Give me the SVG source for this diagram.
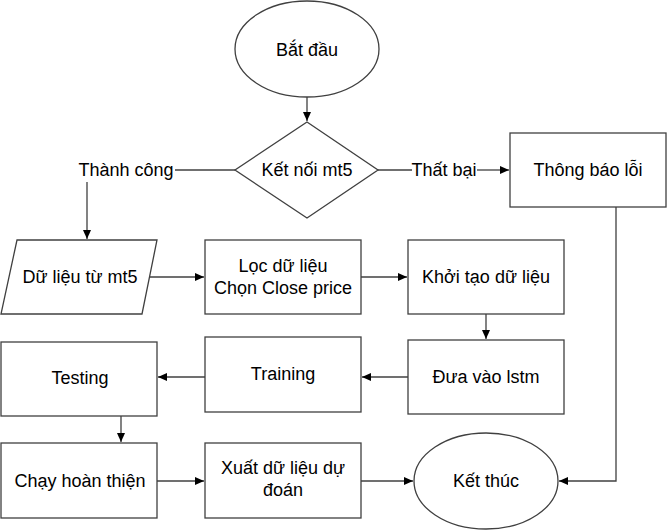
<svg xmlns="http://www.w3.org/2000/svg" width="668" height="531" viewBox="0 0 668 531">
<defs>
<style>
.s{fill:#fff;stroke:#404040;stroke-width:1.3}
.t{font-family:"Liberation Sans",Arial,sans-serif;font-size:18px;fill:#000;text-anchor:middle}
.c{fill:none;stroke:#404040;stroke-width:1.3}
</style>
<marker id="a" markerWidth="10" markerHeight="8" refX="9" refY="4" orient="auto" markerUnits="userSpaceOnUse">
<path d="M0,0 L9,4 L0,8 Z" fill="#000"/>
</marker>
</defs>
<rect width="668" height="531" fill="#fff"/>
<g id="connectors">
<path class="c" d="M307,97 V121" marker-end="url(#a)"/>
<path class="c" d="M235,170 H175"/>
<path class="c" d="M87,182 V239" marker-end="url(#a)"/>
<path class="c" d="M378,170 H412"/>
<path class="c" d="M477,170 H509" marker-end="url(#a)"/>
<path class="c" d="M616,207 V481 H559" marker-end="url(#a)"/>
<path class="c" d="M150,277 H204" marker-end="url(#a)"/>
<path class="c" d="M361,277 H407" marker-end="url(#a)"/>
<path class="c" d="M486,314 V339" marker-end="url(#a)"/>
<path class="c" d="M408,377 H362" marker-end="url(#a)"/>
<path class="c" d="M205,377 H158" marker-end="url(#a)"/>
<path class="c" d="M121,416 V442" marker-end="url(#a)"/>
<path class="c" d="M157,481 H204" marker-end="url(#a)"/>
<path class="c" d="M361,481 H413" marker-end="url(#a)"/>
</g>
<g id="start">
<ellipse class="s" cx="307" cy="49" rx="72" ry="48"/>
<text class="t" x="307" y="56">Bắt đầu</text>
</g>
<g id="connect">
<polygon class="s" points="307,122 378,170 307,218 235,170"/>
<text class="t" x="307" y="176">Kết nối mt5</text>
</g>
<g id="lbl-success">
<text class="t" x="126" y="176">Thành công</text>
</g>
<g id="lbl-fail">
<text class="t" x="444" y="176">Thất bại</text>
</g>
<g id="error">
<rect class="s" x="510" y="133" width="156" height="74"/>
<text class="t" x="588" y="176">Thông báo lỗi</text>
</g>
<g id="data">
<polygon class="s" points="17,240 157,240 142,314 1,314"/>
<text class="t" x="80" y="283">Dữ liệu từ mt5</text>
</g>
<g id="filter">
<rect class="s" x="205" y="240" width="156" height="74"/>
<text class="t" x="283" y="272">Lọc dữ liệu</text>
<text class="t" x="283" y="294">Chọn Close price</text>
</g>
<g id="init">
<rect class="s" x="408" y="240" width="156" height="74"/>
<text class="t" x="486" y="283">Khởi tạo dữ liệu</text>
</g>
<g id="lstm">
<rect class="s" x="408" y="340" width="156" height="74"/>
<text class="t" x="486" y="383">Đưa vào lstm</text>
</g>
<g id="training">
<rect class="s" x="205" y="337" width="156" height="75"/>
<text class="t" x="283" y="380">Training</text>
</g>
<g id="testing">
<rect class="s" x="1" y="342" width="156" height="74"/>
<text class="t" x="80" y="384">Testing</text>
</g>
<g id="run">
<rect class="s" x="1" y="443" width="156" height="75"/>
<text class="t" x="80" y="487">Chạy hoàn thiện</text>
</g>
<g id="export">
<rect class="s" x="205" y="443" width="156" height="75"/>
<text class="t" x="283" y="474">Xuất dữ liệu dự</text>
<text class="t" x="283" y="496">đoán</text>
</g>
<g id="end">
<ellipse class="s" cx="486" cy="481" rx="72" ry="48"/>
<text class="t" x="486" y="487">Kết thúc</text>
</g>
</svg>
